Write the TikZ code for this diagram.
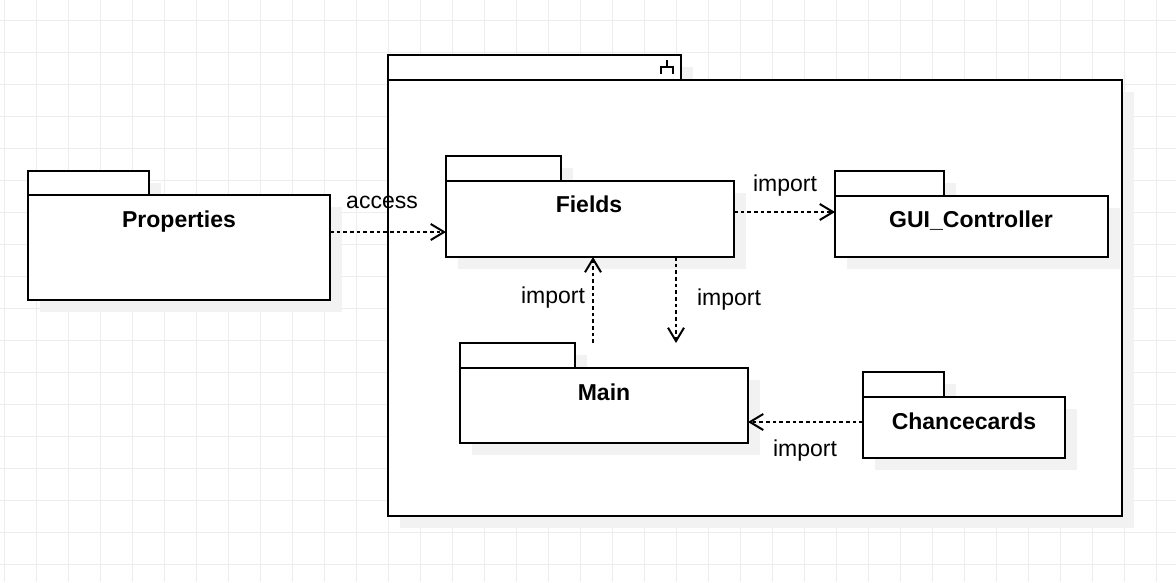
\documentclass[tikz,border=0pt]{standalone}
\usepackage{fontspec}
\setmainfont{Liberation Sans}
\usetikzlibrary{arrows.meta,fit}
\definecolor{gridc}{HTML}{EDEDED}
\definecolor{shadowc}{HTML}{F2F2F2}
\begin{document}
\begin{tikzpicture}[x=0.75pt,y=-0.75pt,
  pkg/.style={draw=black,line width=1.5pt,fill=white,inner sep=0pt,outer sep=0pt},
  shade/.style={fill=shadowc,draw=none},
  dep/.style={draw=black,line width=1.5pt,dash pattern=on 2.7pt off 2.3pt,
    -{Straight Barb[length=10pt,width=12pt]}},
  lbl/.style={font=\fontsize{17.25}{20}\selectfont,text=black,inner sep=0pt,anchor=base},
  ttl/.style={font=\fontsize{17.25}{20}\selectfont\bfseries,text=black,inner sep=0pt,anchor=base},
  gridline/.style={draw=gridc,line width=0.75pt}]
% background and grid
\fill[white] (0,0) rectangle (1176,582);
\useasboundingbox (0,0) rectangle (1176,582);
\foreach \x in {4,36,...,1176} \draw[gridline] (\x,0) -- (\x,582);
\foreach \y in {20,52,...,582} \draw[gridline] (0,\y) -- (1176,\y);
% package macro: name, tab x1,y1, tab x2, body y1, body x2, body y2
\newcommand{\umlpkg}[7]{%
  \fill[shade] (#2+12,#3+12) rectangle (#4+12,#5+12);
  \fill[shade] (#2+12,#5+12) rectangle (#6+12,#7+12);
  \node[pkg,fit={(#2,#3)(#4,#5)}] (#1tab) {};
  \node[pkg,fit={(#2,#5)(#6,#7)}] (#1) {};
}
% outer package
\umlpkg{outer}{388}{55}{681}{80}{1122}{516}
\coordinate (iconTop) at (667,60);
\coordinate (iconMid) at (667,67);
\coordinate (iconL) at (661,67);
\coordinate (iconR) at (673,67);
\draw[line width=1.5pt] (iconTop) -- (iconMid);
\draw[line width=1.5pt] (iconL |- 0,74) -- (iconL) -- (iconR) -- (iconR |- 0,74);
% packages
\umlpkg{prop}{28}{171}{149}{195}{330}{300}
\umlpkg{fields}{446}{156}{561}{181}{734}{257}
\umlpkg{gui}{835}{171}{944}{196}{1108}{257}
\umlpkg{main}{460}{343}{575}{368}{748}{443}
\umlpkg{chance}{863}{372}{944}{397}{1065}{458}
% titles
\node[ttl] (propT) at (179,227) {Properties};
\node[ttl] (fieldsT) at (589,212) {Fields};
\node[ttl] (guiT) at (971,227) {GUI\_Controller};
\node[ttl] (mainT) at (604,400) {Main};
\node[ttl] (chanceT) at (964,429) {Chancecards};
% connectors
\coordinate (downEnd) at (676,343);
\draw[dep] (prop.east |- 0,232) -- (fields.west |- 0,232);
\draw[dep] (fields.east |- 0,212) -- (gui.west |- 0,212);
\draw[dep] (593,0 |- maintab.north) -- (593,0 |- fields.south);
\draw[dep] (676,0 |- fields.south) -- (downEnd);
\draw[dep] (chance.west |- 0,422) -- (main.east |- 0,422);
% labels
\node[lbl] (lAccess) at (382,208) {access};
\node[lbl] (lImp1) at (785,191) {import};
\node[lbl] (lImp2) at (553,303) {import};
\node[lbl] (lImp3) at (729,305) {import};
\node[lbl] (lImp4) at (805,456) {import};
\end{tikzpicture}
\end{document}
